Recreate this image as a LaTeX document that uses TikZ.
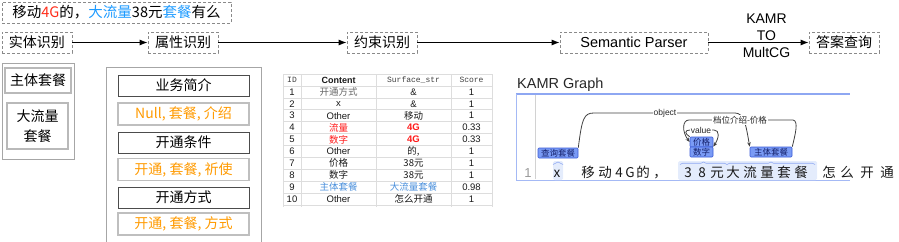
\documentclass[tikz,border=0pt]{standalone}
\usepackage{fontspec}
\setmainfont{Liberation Sans}
\newfontfamily\cjk{Noto Sans CJK SC}
\newfontfamily\mono{Liberation Mono}
\usetikzlibrary{arrows.meta,decorations.pathreplacing,calc}
\definecolor{dashgray}{HTML}{8A8A8A}
\definecolor{redt}{HTML}{FF2D1A}
\definecolor{bluet}{HTML}{1E9BFF}
\definecolor{oranget}{HTML}{FF9A00}
\definecolor{tblblue}{HTML}{4A8FDB}
\definecolor{tblred}{HTML}{FF1A1A}
\definecolor{gridc}{HTML}{DDDDDD}
\definecolor{spanfill}{HTML}{7A9BF5}
\definecolor{spanborder}{HTML}{3B5BD6}
\definecolor{spantext}{HTML}{14206B}
\definecolor{hl}{HTML}{E4ECFC}
\definecolor{edblue}{HTML}{8EA7F2}
\begin{document}
\begin{tikzpicture}[x=1pt,y=-1pt,
  dbox/.style={draw=dashgray,dash pattern=on 3pt off 2pt,line width=0.8pt,inner sep=0pt,
    minimum height=21pt,font={\cjk\fontsize{14}{16}\selectfont}},
  flow/.style={draw=black,line width=0.9pt,-{Latex[length=8pt,width=6pt]}},
  ibox/.style={draw=black!70,line width=0.8pt,minimum width=131pt,minimum height=21pt,
    inner sep=0pt,font={\cjk\fontsize{14}{16}\selectfont}},
  obox/.style={ibox,draw=gray!50,line width=1.3pt,minimum height=22pt,text=oranget},
  lbox/.style={draw=gray!55,line width=1.3pt,inner sep=0pt,font={\cjk\fontsize{14}{20}\selectfont},align=center},
  cell/.style={inner sep=0pt,font=\fontsize{9.5}{10}\selectfont,text=black!90},
  hcell/.style={inner sep=0pt,font={\mono\fontsize{8}{9}\selectfont},text=black!75},
  span/.style={fill=spanfill,draw=spanborder,line width=0.6pt,rounded corners=1pt,text=spantext,
    font={\cjk\fontsize{8.5}{9}\selectfont},inner sep=0pt,minimum height=10pt},
  arc/.style={draw=black!75,line width=0.8pt},
  arctip/.style={arc,-{Stealth[length=4.5pt,width=3.5pt]}},
  lab/.style={fill=white,inner sep=0.6pt,font=\fontsize{8.5}{9}\selectfont,text=black!85},
  wchar/.style={font={\cjk\fontsize{13.5}{14}\selectfont},text=black!90,inner sep=0pt,anchor=base}
]
\useasboundingbox (0,0) rectangle (899,241);

% ---- top flow ----
\node[dbox,minimum width=229pt,font={\cjk\fontsize{14.5}{16}\selectfont}] (q) at (116.5,12.5)
  {移动\textcolor{redt}{4G}的，\textcolor{bluet}{大流量}38元\textcolor{bluet}{套餐}有么};
\node[dbox,minimum width=70pt] (er) at (37,42.5) {实体识别};
\node[dbox,minimum width=70pt] (ar) at (183,42.5) {属性识别};
\node[dbox,minimum width=70pt] (cr) at (382,42.5) {约束识别};
\node[dbox,minimum width=148pt,font=\fontsize{14.5}{16}\selectfont] (sp) at (634,42.5) {Semantic Parser};
\node[dbox,minimum width=70pt] (ans) at (844,42.5) {答案查询};
\draw[flow] (er) -- (ar);
\draw[flow] (ar) -- (cr);
\draw[flow] (cr) -- (sp);
\draw[flow] (sp) -- node[pos=0.58,yshift=6.5pt,align=center,font=\fontsize{14}{17}\selectfont] (kl) {KAMR\\TO\\MultCG} (ans);

% ---- entity box ----
\node[draw=gray!70,line width=0.8pt,minimum width=72pt,minimum height=96pt,inner sep=0pt] (eb) at (38,111) {};
\node[lbox,minimum width=66pt,minimum height=25pt] (e1) at (38,80.5) {主体套餐};
\node[lbox,minimum width=61pt,minimum height=46pt] (e2) at (37.5,126) {大流量\\套餐};

% ---- attribute box ----
\draw[gray!70,line width=0.8pt] (106,243) -- (106,67) -- (261,67) -- (261,243);
\node[ibox] (a1) at (183.5,85.5) {业务简介};
\node[obox] (a2) at (183.5,114) {Null, 套餐, 介绍};
\node[ibox] (a3) at (183.5,142.5) {开通条件};
\node[obox] (a4) at (183.5,169.5) {开通, 套餐, 祈使};
\node[ibox] (a5) at (183.5,197.5) {开通方式};
\node[obox] (a6) at (183.5,224) {开通, 套餐, 方式};

% ---- table ----
\foreach \k in {0,...,11} \draw[gridc,line width=0.6pt] (283,{74+11.9*\k}) -- (492,{74+11.9*\k});
\foreach \xx in {283,301,376,451,492} \draw[gridc,line width=0.6pt] (\xx,74) -- (\xx,207);
\node[hcell] (h1) at (292,80) {ID};
\node[cell,font=\bfseries\fontsize{9}{10}\selectfont] (h2) at (338.5,80) {Content};
\node[hcell] (h3) at (413.5,80) {Surface\_str};
\node[hcell] (h4) at (471.5,80) {Score};
\foreach \r/\ct/\sf/\sc in {
  1/{\cjk\color{black!60}开通方式}/{\&}/1,
  2/{x}/{\&}/1,
  3/{Other}/{\cjk 移动}/1,
  4/{\cjk\color{tblred}流量}/{\bfseries\color{tblred}4G}/0.33,
  5/{\cjk\color{tblred}数字}/{\bfseries\color{tblred}4G}/0.33,
  6/{Other}/{\cjk 的,}/1,
  7/{\cjk 价格}/{\cjk 38元}/1,
  8/{\cjk 数字}/{\cjk 38元}/1,
  9/{\cjk\color{tblblue}主体套餐}/{\cjk\color{tblblue}大流量套餐}/0.98,
  10/{Other}/{\cjk 怎么开通}/1}
{
  \node[cell] (t\r-1) at (292,{80+11.9*\r}) {\r};
  \node[cell] (t\r-2) at (338.5,{80+11.9*\r}) {\ct};
  \node[cell] (t\r-3) at (413.5,{80+11.9*\r}) {\sf};
  \node[cell] (t\r-4) at (471.5,{80+11.9*\r}) {\sc};
}

% ---- KAMR graph ----
\node[anchor=west,inner sep=0pt,font=\fontsize{14.5}{16}\selectfont,text=black!85] (kt) at (517,85) {KAMR Graph};
\draw[edblue,line width=1.2pt] (516,94) -- (850,94);
\draw[edblue!80,line width=1pt] (516,94) -- (516,180) -- (850,180);
\draw[gray!35,line width=0.8pt] (535,95) -- (535,179);
\node[inner sep=0pt,font=\fontsize{13}{14}\selectfont,text=gray!80,anchor=base] (ln) at (528,177) {1};

\fill[hl,rounded corners=1.5pt] (553,161) rectangle (563,180);
\fill[hl,rounded corners=1.5pt] (678,161) rectangle (817,180);
\draw[edblue,line width=0.6pt,decorate,decoration={brace,amplitude=2.5pt}] (553,164.5) -- (563,164.5);
\draw[edblue,line width=0.6pt,decorate,decoration={brace,amplitude=2.5pt}] (680,164.5) -- (727,164.5);
\draw[edblue,line width=0.6pt,decorate,decoration={brace,amplitude=2.5pt}] (727,164.5) -- (815,164.5);

\foreach \xx/\ch [count=\n] in {557/x,588/移,605/动,619/4,630/G,643/的,660/，,688/3,702/8,717/元,733/大,750/流,767/量,784/套,801/餐,829/怎,847/么,867/开,887/通}
  \node[wchar] (w\n) at (\xx,177) {\ch};

\node[span,minimum width=40pt] (s1) at (558,153) {查询套餐};
\node[span,minimum width=23pt] (s2) at (701.5,142) {价格};
\node[span,minimum width=23pt] (s3) at (701.5,152) {数字};
\node[span,minimum width=42pt] (s4) at (771,152) {主体套餐};

\draw[arctip] (s1.north east) .. controls (582,118) and (584,113) .. (594,113) -- (735,113)
  .. controls (744,113) and (746,125) .. (s4.north west);
\node[lab] (lo) at (665,113) {object};
\draw[arctip] (s4.north east) .. controls (795,135) and (799,121) .. (793,120) -- (689,120)
  .. controls (682,120) and (682,132) .. (s2.west);
\node[lab,font={\cjk\fontsize{8.5}{9}\selectfont}] (lp) at (740,120) {档位介绍-价格};
\draw[arctip] (s2.north west) .. controls (685,134) and (684,130) .. (690,130) -- (714,130)
  .. controls (720,130) and (719,138) .. (s3.north east);
\node[lab] (lv) at (701,130) {value};
\end{tikzpicture}
\end{document}
